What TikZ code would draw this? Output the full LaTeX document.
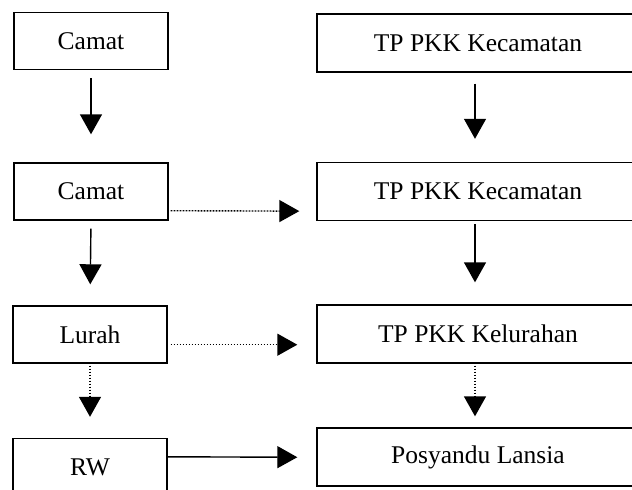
\documentclass[tikz,border=0pt]{standalone}
\usepackage{fontspec}
\setmainfont{Liberation Serif}
\usetikzlibrary{arrows.meta}
\begin{document}
\begin{tikzpicture}[x=1pt,y=-1pt,
  box/.style={draw=black, line width=1.4pt, rectangle, inner sep=0pt,
    font=\fontsize{25.5}{30}\selectfont},
  lbox/.style={box, minimum width=154pt, minimum height=57pt},
  rbox/.style={box, minimum width=322pt, minimum height=58pt},
  link/.style={line width=1.4pt, -{Triangle[length=20pt,width=22pt]}},
  dotlink/.style={link, dash pattern=on 1.6pt off 1.4pt}
]
\clip (0,0) rectangle (632,490);
\fill[white] (0,0) rectangle (632,490);

% left column
\node[lbox] (camatA) at (91,41)    {Camat};
\node[lbox] (camatB) at (91,191.5) {Camat};
\node[lbox] (lurah)  at (90,334.5) {Lurah};
\node[lbox] (rw)     at (90,467)   {RW};

% right column
\node[rbox] (tpA)  at (478,43)    {TP PKK Kecamatan};
\node[rbox] (tpB)  at (478,191.5) {TP PKK Kecamatan};
\node[rbox] (tpK)  at (478,334)   {TP PKK Kelurahan};
\node[rbox] (pos)  at (478,457)   {Posyandu Lansia};

% vertical links, left column
\draw[link, shorten <=8pt, shorten >=28pt] (camatA.south) -- (camatB.north);
\draw[link, shorten <=8pt, shorten >=21pt] (camatB.south) -- (lurah.north);
\draw[dotlink, shorten <=2pt, shorten >=21pt] (lurah.south) -- (rw.north);

% vertical links, right column
\draw[link, shorten <=11pt, shorten >=23pt] ([xshift=-3pt]tpA.south) -- ([xshift=-3pt]tpB.north);
\draw[link, shorten <=3pt, shorten >=22pt] ([xshift=-3pt]tpB.south) -- ([xshift=-3pt]tpK.north);
\draw[dotlink, shorten <=2pt, shorten >=11pt] ([xshift=-3pt]tpK.south) -- ([xshift=-3pt]pos.north);

% horizontal links
\draw[dotlink, shorten <=2pt, shorten >=17pt] ([yshift=10pt]camatB.south east) -- ([yshift=10pt]tpB.south west);
\draw[dotlink, shorten <=3pt, shorten >=19pt] ([yshift=19pt]lurah.south east) -- ([yshift=19pt]tpK.south west);
\draw[link, shorten <=0pt, shorten >=19pt] ([yshift=-19pt]rw.north east) -- ([yshift=-30pt]pos.north west);
\end{tikzpicture}
\end{document}
